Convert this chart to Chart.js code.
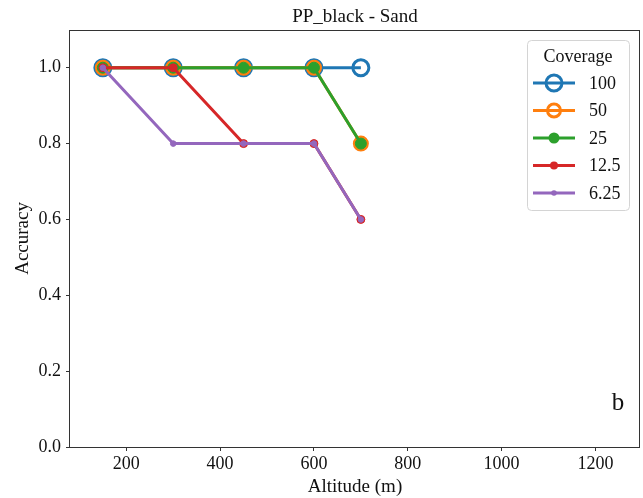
<!DOCTYPE html>
<html>
<head>
<meta charset="utf-8">
<script src="https://cdn.jsdelivr.net/npm/chart.js@4.4.1/dist/chart.umd.min.js"></script>
<style>
  html, body { margin: 0; padding: 0; background: #fff; overflow: hidden; }
  canvas { display: block; }
</style>
</head>
<body>
<canvas id="chart" width="643" height="498"></canvas>
<script>
// Data
const altitudes = [150, 300, 450, 600, 700];
const coverageLabels = ['100', '50', '25', '12.5', '6.25'];
const acc100 = [1.0, 1.0, 1.0, 1.0, 1.0];
const acc50 = [1.0, 1.0, 1.0, 1.0, 0.8];
const acc25 = [1.0, 1.0, 1.0, 1.0, 0.8];
const acc12_5 = [1.0, 1.0, 0.8, 0.8, 0.6];
const acc6_25 = [1.0, 0.8, 0.8, 0.8, 0.6];
const xTicks = [200, 400, 600, 800, 1000, 1200];
const yTicks = [0.0, 0.2, 0.4, 0.6, 0.8, 1.0];

const FONT = "'Times New Roman', 'Liberation Serif', serif";

function series(values) {
    return altitudes.map((x, i) => ({ x: x, y: values[i] }));
}

// style per line: colour, marker radius, hollow or not
function makeSet(label, values, color, radius, hollow, order) {
    return {
        label: label,
        data: series(values),
        borderColor: color,
        backgroundColor: color,
        borderWidth: 3,
        pointRadius: radius,
        pointHoverRadius: radius,
        pointBorderWidth: hollow ? 3 : 1,
        pointBorderColor: color,
        pointBackgroundColor: hollow ? 'rgba(0,0,0,0)' : color,
        hollow: hollow,
        order: order
    };
}

const datasets = [
    makeSet(coverageLabels[0], acc100, '#1f77b4', 8, true, 5),
    makeSet(coverageLabels[1], acc50, '#ff7f0e', 6.5, true, 4),
    makeSet(coverageLabels[2], acc25, '#2ca02c', 5.5, false, 3),
    makeSet(coverageLabels[3], acc12_5, '#d62728', 4, false, 2),
    makeSet(coverageLabels[4], acc6_25, '#9467bd', 2.8, false, 1)
];

// frame, legend box and the panel letter
const overlay = {
    id: 'overlay',
    afterDraw(chart) {
        const ctx = chart.ctx;
        const a = chart.chartArea;
        ctx.save();

        // axes frame
        ctx.strokeStyle = '#333';
        ctx.lineWidth = 1;
        ctx.strokeRect(Math.round(a.left) - 0.5, Math.round(a.top) + 0.5,
            Math.round(a.right - a.left), Math.round(a.bottom - a.top));

        // legend
        const box = { x: 527, y: 40, w: 102, h: 170 };
        ctx.beginPath();
        ctx.roundRect(box.x + 0.5, box.y + 0.5, box.w, box.h, 4);
        ctx.fillStyle = 'rgba(255,255,255,0.8)';
        ctx.fill();
        ctx.strokeStyle = '#d4d4d4';
        ctx.stroke();

        ctx.fillStyle = '#111';
        ctx.font = '18px ' + FONT;
        ctx.textAlign = 'center';
        ctx.textBaseline = 'middle';
        ctx.fillText('Coverage', 578, 57);

        ctx.textAlign = 'left';
        chart.data.datasets.forEach((ds, i) => {
            const y = 83 + i * 27.5;
            ctx.strokeStyle = ds.borderColor;
            ctx.lineWidth = 3;
            ctx.beginPath();
            ctx.moveTo(533, y);
            ctx.lineTo(575, y);
            ctx.stroke();

            ctx.beginPath();
            ctx.arc(554, y, ds.pointRadius, 0, Math.PI * 2);
            if (ds.hollow) {
                ctx.lineWidth = ds.pointBorderWidth;
                ctx.stroke();
            } else {
                ctx.fillStyle = ds.pointBackgroundColor;
                ctx.fill();
            }
            ctx.fillStyle = '#111';
            ctx.fillText(ds.label, 589, y + 1);
        });

        // panel letter
        ctx.font = '25px ' + FONT;
        ctx.textAlign = 'center';
        ctx.fillText('b', 618, 403);

        ctx.restore();
    }
};

new Chart(document.getElementById('chart'), {
    type: 'line',
    data: { datasets: datasets },
    options: {
        responsive: false,
        animation: false,
        layout: { autoPadding: false, padding: { left: 0, right: 3, top: 0, bottom: 0 } },
        elements: { line: { tension: 0 } },
        plugins: {
            legend: { display: false },
            tooltip: { enabled: false },
            title: {
                display: true,
                fullSize: false,
                text: 'PP_black - Sand',
                color: '#111',
                font: { family: FONT, size: 19, weight: 'normal' },
                padding: { top: 6, bottom: 1 }
            }
        },
        scales: {
            x: {
                type: 'linear',
                min: 80,
                max: 1295,
                afterBuildTicks: s => { s.ticks = xTicks.map(v => ({ value: v })); },
                afterFit: s => { s.height = 51; s.paddingLeft = 0; s.paddingRight = 0; },
                border: { display: false },
                grid: { display: true, drawOnChartArea: false, color: '#333', tickLength: 4 },
                ticks: {
                    color: '#111',
                    padding: 2,
                    maxRotation: 0,
                    font: { family: FONT, size: 18 },
                    callback: v => String(v)
                },
                title: {
                    display: true,
                    text: 'Altitude (m)',
                    color: '#111',
                    font: { family: FONT, size: 19 },
                    padding: { top: 0, bottom: 0 }
                }
            },
            y: {
                min: 0,
                max: 1.1,
                afterBuildTicks: s => { s.ticks = yTicks.map(v => ({ value: v })); },
                afterFit: s => { s.width = 70; s.paddingTop = 0; s.paddingBottom = 0; },
                border: { display: false },
                grid: { display: true, drawOnChartArea: false, color: '#333', tickLength: 4 },
                ticks: {
                    color: '#111',
                    padding: 5,
                    font: { family: FONT, size: 18 },
                    callback: v => Number(v).toFixed(1)
                },
                title: {
                    display: true,
                    text: 'Accuracy',
                    color: '#111',
                    font: { family: FONT, size: 19 },
                    padding: { top: 12, bottom: 0 }
                }
            }
        }
    },
    plugins: [overlay]
});
</script>
</body>
</html>
